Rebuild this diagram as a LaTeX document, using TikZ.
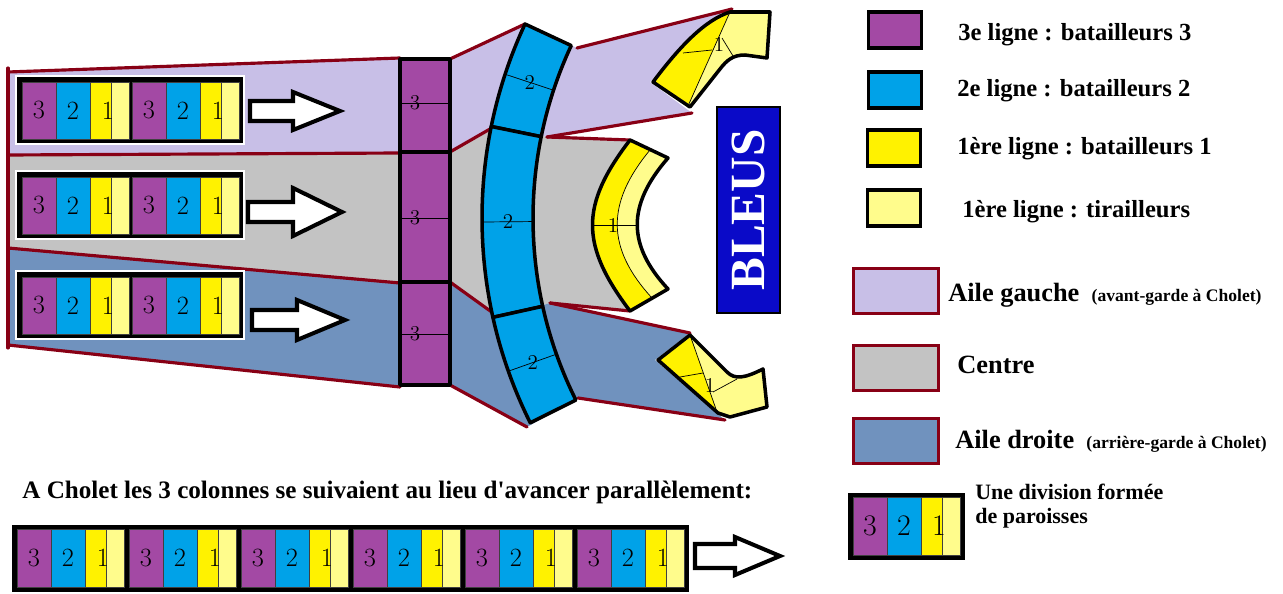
\documentclass[tikz,border=0pt]{standalone}
\usepackage{fontspec}
\newfontfamily\legfont{Liberation Serif}
\usetikzlibrary{calc}

\definecolor{ctrois}{RGB}{163,73,164}
\definecolor{cdeux}{RGB}{0,162,232}
\definecolor{cun}{RGB}{255,242,0}
\definecolor{ctir}{RGB}{255,252,140}
\definecolor{cgauche}{RGB}{200,191,231}
\definecolor{ccentre}{RGB}{195,195,195}
\definecolor{cdroite}{RGB}{112,146,190}
\definecolor{cbord}{RGB}{136,0,21}
\definecolor{cbleus}{RGB}{10,10,200}

\newcommand\bigleg{\fontsize{15}{17}\selectfont}
\newcommand\smallleg{\fontsize{10}{12}\selectfont}

% une division : 3 / 2 / 1 (batailleurs + tirailleurs)
\newcommand\division[4]{%
  \node[cell, fill=ctrois, minimum width=0.68cm, minimum height=#4] (#1p) at (#2,#3) {3};
  \node[cell, fill=cdeux, minimum width=0.68cm, minimum height=#4] (#1b) at (#1p.north east) {2};
  \node[cell, fill=cun, minimum width=0.42cm, minimum height=#4] (#1y) at (#1b.north east) {};
  \node[cell, fill=ctir, minimum width=0.36cm, minimum height=#4] (#1l) at (#1y.north east) {};
  \node[digit] (#1n) at ([xshift=-0.06cm]#1y.east) {1};
}

\tikzset{
  pics/marche/.style n args={4}{code={
    \draw[arrowline] (0,-#1) -- (#2,-#1) -- (#2,-#3) -- (#4,0) -- (#2,#3) -- (#2,#1) -- (0,#1) -- cycle;
  }}
}

\begin{document}
\begin{tikzpicture}[x=0.02cm, y=-0.02cm,
    wingline/.style={draw=cbord, line width=1.8pt, line cap=round},
    cell/.style={draw=black!75, line width=0.4pt, inner sep=0pt, outer sep=0pt, anchor=north west,
                 font=\fontsize{15}{15}\selectfont},
    digit/.style={inner sep=0pt, font=\fontsize{15}{15}\selectfont},
    smalldigit/.style={inner sep=0pt, font=\fontsize{12}{12}\selectfont},
    outline/.style={draw=black, line width=2pt, line join=round},
    hairline/.style={draw=black, line width=0.4pt},
    arrowline/.style={draw=black, fill=white, line width=2.3pt, line join=miter},
    legbox/.style={draw=black, line width=1.8pt, minimum width=1.06cm, minimum height=0.72cm, inner sep=0pt},
    wingbox/.style={draw=cbord, line width=1.8pt, minimum width=1.7cm, minimum height=0.9cm, inner sep=0pt},
    legtext/.style={inner sep=0pt, anchor=base west, font=\legfont\bfseries\fontsize{14}{16}\selectfont}]
  \useasboundingbox (0,0) rectangle (1283,594);

  % les trois ailes
  \fill[cgauche] (8,72) -- (400,58) -- (450,58) -- (525,24) -- (577,48) -- (732,9) -- (650,82) -- (692,113)
    -- (547,137) -- (497,125) -- (450,152) -- (8,155) -- cycle;
  \fill[ccentre] (8,155) -- (450,152) -- (497,125) -- (547,137) -- (630,140) -- (640,150) -- (605,225)
    -- (640,300) -- (630,311) -- (550,303) -- (500,318) -- (450,283) -- (400,283) -- (8,248) -- cycle;
  \fill[cdroite] (8,248) -- (400,283) -- (450,283) -- (500,318) -- (550,303) -- (690,333) -- (655,360)
    -- (725,420) -- (578,398) -- (527,427) -- (450,386) -- (400,387) -- (8,345) -- cycle;
  \draw[wingline] (8,68) -- (8,348);
  \draw[wingline] (8,72) -- (400,58);
  \draw[wingline] (8,155) -- (400,153);
  \draw[wingline] (8,248) -- (400,283);
  \draw[wingline] (8,345) -- (400,387);
  \draw[wingline] (450,59) -- (525,24);
  \draw[wingline] (450,152) -- (497,125);
  \draw[wingline] (450,282) -- (500,318);
  \draw[wingline] (450,385) -- (527,427);
  \draw[wingline] (577,48) -- (732,9);
  \draw[wingline] (547,137) -- (692,113);
  \draw[wingline] (547,137) -- (630,140);
  \draw[wingline] (550,303) -- (630,311);
  \draw[wingline] (550,303) -- (690,333);
  \draw[wingline] (578,398) -- (725,420);

  % colonnes de depart
  \foreach \rg/\yt in {1/77, 2/172, 3/272} {
    \fill[white] (15,\yt-2) rectangle (245,\yt+68);
    \fill[black] (17,\yt) rectangle (243,\yt+66);
    \division{r\rg a}{22}{\yt+5}{1.14cm}
    \division{r\rg b}{132}{\yt+5}{1.14cm}
  }
  \pic (av1) at (250,111) {marche={10}{43}{19}{90}};
  \pic (av2) at (248,212) {marche={10}{45}{24}{94}};
  \pic (av3) at (252,320) {marche={10}{45}{20}{93}};

  % 3e ligne
  \foreach \n/\ya/\yb/\yl in {haut/59/152/103, mil/152/282/218, bas/282/385/334} {
    \draw[outline, fill=ctrois] (400,\ya) rectangle (450,\yb);
    \draw[hairline] (400,\yl) -- (450,\yl);
    \node[smalldigit] (col\n) at (415,\yl) {3};
  }

  % 2e ligne en arc
  \coordinate (C) at (941,218);
  \foreach \n/\a/\b in {haut/191.5/205, mil/167.5/191.5, bas/153.5/167.5} {
    \draw[outline, fill=cdeux] ($(C)+(\b:459)$) arc[start angle=\b, end angle=\a, radius=459]
      -- ($(C)+(\a:408)$) arc[start angle=\a, end angle=\b, radius=408] -- cycle;
    \draw[hairline] ($(C)+({(\a+\b)/2}:459)$) -- ($(C)+({(\a+\b)/2}:408)$);
    \node[smalldigit] (arc\n) at ($(C)+({(\a+\b)/2}:433)$) {2};
  }

  % 1re ligne : centre
  \fill[ctir] (630,140) .. controls (580,205) and (580,245) .. (630,311) -- (668,289)
    .. controls (627,245) and (627,205) .. (668,158) -- cycle;
  \fill[cun] (630,140) .. controls (580,205) and (580,245) .. (630,311) -- (652,298)
    .. controls (606,248) and (606,203) .. (650,150) -- cycle;
  \draw[hairline] (650,150) .. controls (606,203) and (606,248) .. (652,298);
  \draw[hairline] (592,225) -- (638,225);
  \draw[outline] (630,140) .. controls (580,205) and (580,245) .. (630,311) -- (668,289)
    .. controls (627,245) and (627,205) .. (668,158) -- cycle;
  \node[smalldigit] (uncentre) at (613,225) {1};

  % 1re ligne : aile gauche
  \fill[ctir] (653,82) .. controls (680,46) and (705,20) .. (730,12) -- (770,12) -- (767,58) -- (745,55)
    .. controls (733,55) and (727,60) .. (720,69) -- (690,107) -- cycle;
  \fill[cun] (653,82) .. controls (680,46) and (705,20) .. (730,12) -- (688,106) -- cycle;
  \draw[hairline] (730,12) -- (688,106);
  \draw[hairline] (683,53) -- (712,50);
  \draw[hairline] (722,38) -- (733,56);
  \draw[outline] (653,82) .. controls (680,46) and (705,20) .. (730,12) -- (770,12) -- (767,58) -- (745,55)
    .. controls (733,55) and (727,60) .. (720,69) -- (690,107) -- cycle;
  \node[smalldigit] (ungauche) at (719,44) {1};

  % 1re ligne : aile droite
  \fill[ctir] (658,360) -- (690,335) -- (727,372) .. controls (735,380) and (745,378) .. (763,369)
    -- (767,407) -- (730,417) -- (718,413) -- cycle;
  \fill[cun] (658,360) -- (690,335) -- (717,412) -- (718,413) -- cycle;
  \draw[hairline] (690,335) -- (717,412);
  \draw[hairline] (680,377) -- (703,373);
  \draw[hairline] (713,392) -- (737,379);
  \draw[outline] (658,360) -- (690,335) -- (727,372) .. controls (735,380) and (745,378) .. (763,369)
    -- (767,407) -- (730,417) -- (718,413) -- cycle;
  \node[smalldigit] (undroite) at (710,385) {1};

  % l'ennemi
  \node[draw=black, line width=0.6pt, fill=cbleus, text=white, rotate=90, minimum width=4.12cm,
        minimum height=1.26cm, inner sep=0pt, font=\legfont\bfseries\fontsize{28}{28}\selectfont]
        (bleus) at (748.5,210) {BLEUS};

  % legende
  \node[legbox, fill=ctrois] (leg3) at (895,30) {};
  \node[legtext] (txt3) at (958,41) {3e ligne : batailleurs 3};
  \node[legbox, fill=cdeux] (leg2) at (895,90) {};
  \node[legtext] (txt2) at (957,97) {2e ligne : batailleurs 2};
  \node[legbox, fill=cun] (leg1) at (894,148) {};
  \node[legtext] (txt1) at (957,155) {1ère ligne : batailleurs 1};
  \node[legbox, fill=ctir] (legt) at (894,208) {};
  \node[legtext] (txtt) at (962,218) {1ère ligne : tirailleurs};
  \node[wingbox, fill=cgauche] (leggauche) at (896,291) {};
  \node[legtext] (txtgauche) at (948,301) {{\bigleg Aile gauche}\ \ {\smallleg (avant-garde à Cholet)}};
  \node[wingbox, fill=ccentre] (legcentre) at (896,368) {};
  \node[legtext] (txtcentre) at (957,373) {\bigleg Centre};
  \node[wingbox, fill=cdroite] (legdroite) at (896,441) {};
  \node[legtext] (txtdroite) at (955,448) {{\bigleg Aile droite}\ \ {\smallleg (arrière-garde à Cholet)}};
  \fill[black] (848,493) rectangle (965,560);
  \begin{scope}[cell/.append style={font=\fontsize{17}{17}\selectfont},
                digit/.append style={font=\fontsize{17}{17}\selectfont}]
    \division{leg}{853}{497}{1.16cm}
  \end{scope}
  \node[legtext, align=left, font=\legfont\bfseries\fontsize{12.5}{13.5}\selectfont] (txtdiv) at (975,523)
    {Une division formée\\de paroisses};

  % a Cholet
  \node[legtext, font=\legfont\bfseries\fontsize{14.3}{16}\selectfont] (cholet) at (22,498)
    {A Cholet les 3 colonnes se suivaient au lieu d'avancer parallèlement:};
  \fill[black] (12,525) rectangle (689,592);
  \foreach \k in {0,...,5} {
    \division{cholet\k}{17+112*\k}{529}{1.16cm}
  }
  \pic (avcholet) at (695,556) {marche={12}{40}{19}{85}};
\end{tikzpicture}
\end{document}
